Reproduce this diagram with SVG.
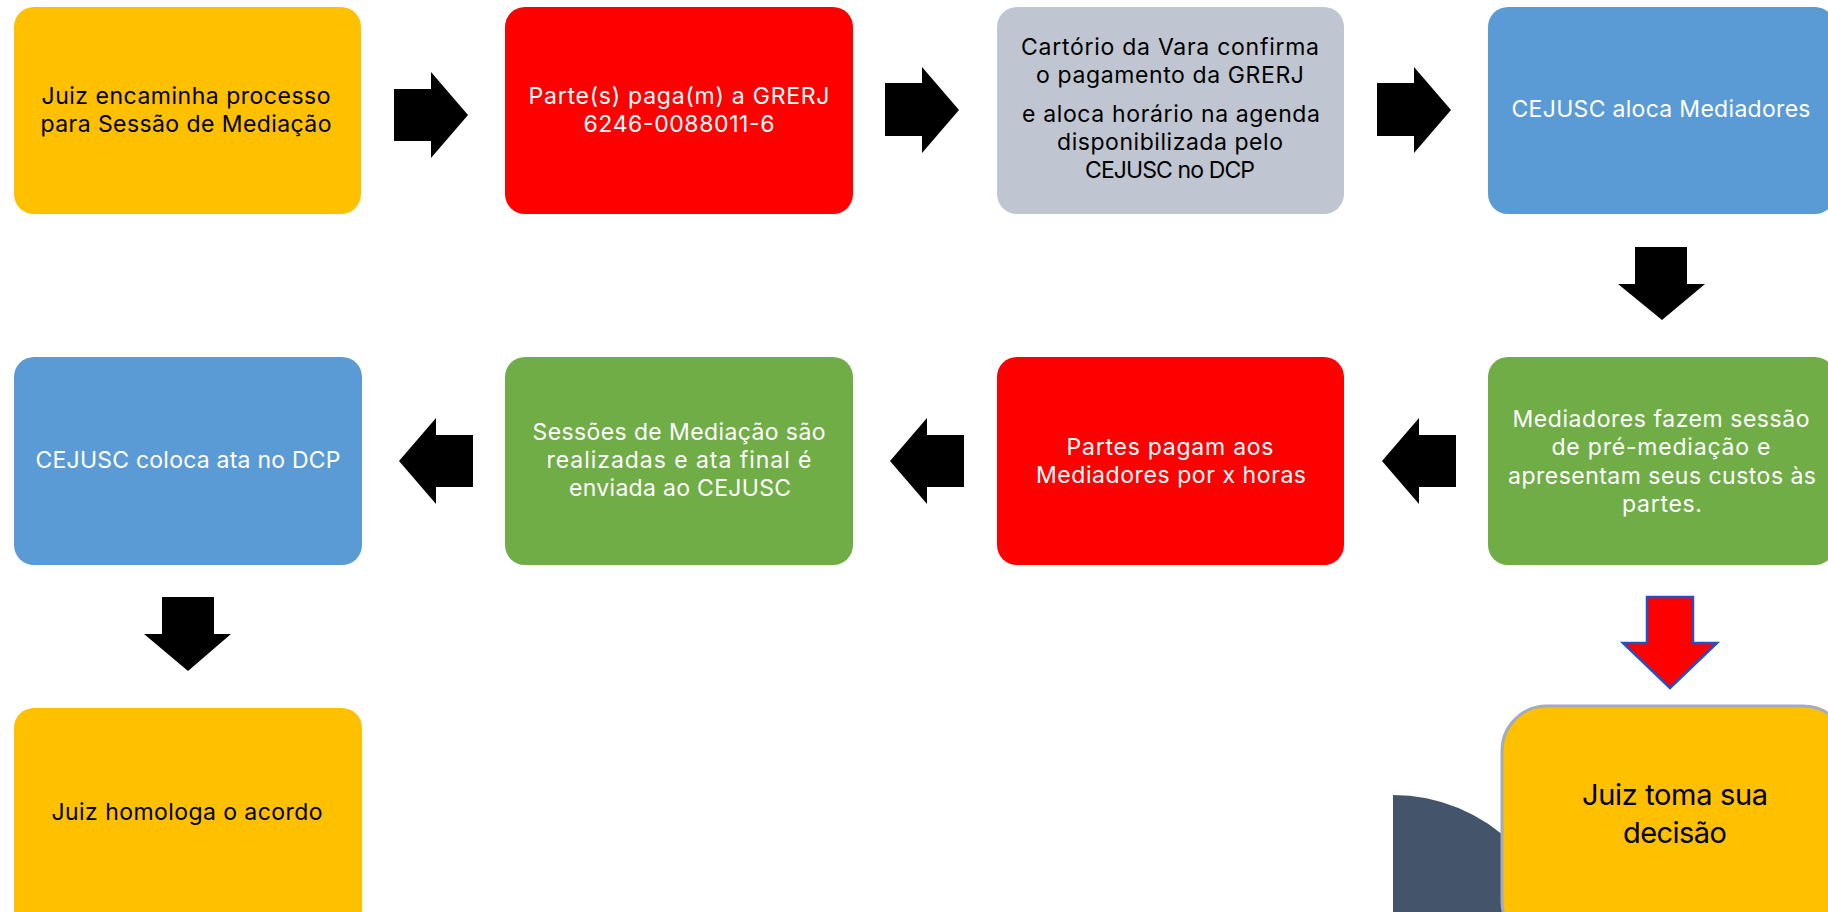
<svg xmlns="http://www.w3.org/2000/svg" width="1828" height="912" viewBox="0 0 1828 912">
<style>
.box{stroke:none}
.yel{fill:#FFC000}
.red{fill:#FF0000}
.gry{fill:#BFC6D1}
.blu{fill:#5B9BD5}
.grn{fill:#70AD47}
.t{font-family:Inter,"Liberation Sans",sans-serif;font-size:23px;text-anchor:middle}
.big{font-size:29px}
.dk{fill:#000000}
.wt{fill:#FFFFFF}
.arr{fill:#000000}
.rarr{fill:#FF0000;stroke:#2251C6;stroke-width:2.5;stroke-linejoin:miter}
</style>
<rect width="1828" height="912" fill="#FFFFFF"/>

<g id="bg-shape">
<path d="M1393,912 L1393,795 A171,171 0 0 1 1564,966 L1393,966 Z" fill="#44546A"/>
</g>

<g id="n1">
<rect class="box yel" x="14" y="7" width="347" height="207" rx="20"/>
<text class="t dk" x="186" y="104" textLength="289">Juiz encaminha processo</text>
<text class="t dk" x="186" y="132" textLength="291">para Sessão de Mediação</text>
</g>

<g id="n2">
<rect class="box red" x="505" y="7" width="348" height="207" rx="20"/>
<text class="t wt" x="679" y="104" textLength="301">Parte(s) paga(m) a GRERJ</text>
<text class="t wt" x="679" y="132" textLength="191">6246-0088011-6</text>
</g>

<g id="n3">
<rect class="box gry" x="997" y="7" width="347" height="207" rx="20"/>
<text class="t dk" x="1170" y="55" textLength="298">Cartório da Vara confirma</text>
<text class="t dk" x="1170" y="83" textLength="268">o pagamento da GRERJ</text>
<text class="t dk" x="1171" y="122" textLength="298">e aloca horário na agenda</text>
<text class="t dk" x="1170" y="150" textLength="226">disponibilizada pelo</text>
<text class="t dk" x="1170" y="178" textLength="170">CEJUSC no DCP</text>
</g>

<g id="n4">
<rect class="box blu" x="1488" y="7" width="347" height="207" rx="20"/>
<text class="t wt" x="1661" y="117" textLength="299">CEJUSC aloca Mediadores</text>
</g>

<g id="n5">
<rect class="box grn" x="1488" y="357" width="347" height="208" rx="20"/>
<text class="t wt" x="1661" y="427" textLength="297">Mediadores fazem sessão</text>
<text class="t wt" x="1661" y="455" textLength="219">de pré-mediação e</text>
<text class="t wt" x="1662" y="484" textLength="308">apresentam seus custos às</text>
<text class="t wt" x="1662" y="512" textLength="80">partes.</text>
</g>

<g id="n6">
<rect class="box red" x="997" y="357" width="347" height="208" rx="20"/>
<text class="t wt" x="1170" y="455" textLength="207">Partes pagam aos</text>
<text class="t wt" x="1171" y="483" textLength="270">Mediadores por x horas</text>
</g>

<g id="n7">
<rect class="box grn" x="505" y="357" width="348" height="208" rx="20"/>
<text class="t wt" x="679" y="440" textLength="293">Sessões de Mediação são</text>
<text class="t wt" x="679" y="468" textLength="265">realizadas e ata final é</text>
<text class="t wt" x="680" y="496" textLength="222">enviada ao CEJUSC</text>
</g>

<g id="n8">
<rect class="box blu" x="14" y="357" width="348" height="208" rx="20"/>
<text class="t wt" x="188" y="468" textLength="305">CEJUSC coloca ata no DCP</text>
</g>

<g id="n9">
<rect class="box yel" x="14" y="708" width="348" height="240" rx="20"/>
<text class="t dk" x="187" y="820" textLength="271">Juiz homologa o acordo</text>
</g>

<g id="n10">
<rect x="1502" y="706" width="346" height="240" rx="45" fill="#FFC000" stroke="#A3ACBA" stroke-width="3"/>
<text class="t big dk" x="1675" y="805" textLength="186">Juiz toma sua</text>
<text class="t big dk" x="1675" y="843" textLength="104">decisão</text>
</g>

<g id="connectors">
<polygon class="arr" points="394,89 431,89 431,72 468,115 431,158 431,141 394,141"/>
<polygon class="arr" points="885,83 922,83 922,67 959,110 922,153 922,136 885,136"/>
<polygon class="arr" points="1377,83 1414,83 1414,67 1451,110 1414,153 1414,136 1377,136"/>
<polygon class="arr" points="1635,247 1687,247 1687,284 1705,284 1662,320 1618,284 1635,284"/>
<polygon class="arr" points="1456,435 1419,435 1419,418 1382,461 1419,504 1419,487 1456,487"/>
<polygon class="arr" points="964,435 927,435 927,418 890,461 927,504 927,487 964,487"/>
<polygon class="arr" points="473,435 436,435 436,418 399,461 436,504 436,487 473,487"/>
<polygon class="arr" points="162,597 214,597 214,634 231,634 188,671 144,634 162,634"/>
<polygon class="rarr" points="1647,597 1693,597 1693,643 1717,643 1670,688 1623,643 1647,643"/>
</g>
</svg>
